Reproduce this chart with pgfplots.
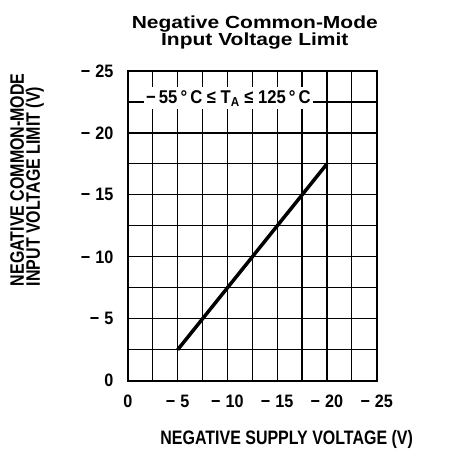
\documentclass[border=0pt]{standalone}
\usepackage{pgfplots}
\pgfplotsset{compat=1.18}
\usepackage{fontspec}
\setmainfont{Liberation Sans}
\newfontfamily\labelfont{Liberation Sans}[FakeStretch=0.82]
\newfontfamily\tickfont{Liberation Sans}[FakeStretch=0.9]
\newfontfamily\titlefont{Liberation Sans}[FakeStretch=1.2]
\begin{document}
\begin{tikzpicture}
\begin{axis}[
  scale only axis,
  width=249pt, height=310pt,
  xmin=-25, xmax=0, ymin=-25, ymax=0,
  x dir=reverse, y dir=reverse,
  xtick={0,-5,-10,-15,-20,-25},
  xticklabels={0,−\;5,−\;10,−\;15,−\;20,−\;25},
  ytick={0,-5,-10,-15,-20,-25},
  yticklabels={0,−\;5,−\;10,−\;15,−\;20,−\;25},
  minor xtick={-2.5,-7.5,-12.5,-17.5,-22.5},
  minor ytick={-2.5,-7.5,-12.5,-17.5,-22.5},
  grid=both,
  major grid style={black, line width=1.2pt},
  minor grid style={black, line width=1.2pt},
  major tick length=0pt, minor tick length=0pt,
  axis line style={black, line width=2pt},
  tick label style={font=\tickfont\bfseries\fontsize{18}{18}\selectfont},
  xticklabel style={yshift=-11pt},
  yticklabel style={xshift=-11pt},
  title={Negative Common-Mode\\Input Voltage Limit},
  title style={font=\titlefont\bfseries\fontsize{17.5}{16}\selectfont, align=center,
    at={(axis description cs:0.51,1)}, anchor=south, yshift=12pt},
  xlabel={NEGATIVE SUPPLY VOLTAGE (V)},
  xlabel style={font=\labelfont\bfseries\fontsize{19.5}{20}\selectfont,
    at={(axis description cs:0.638,-0.19)}, anchor=center},
  ylabel={NEGATIVE COMMON-MODE\\INPUT VOLTAGE LIMIT (V)},
  ylabel style={font=\labelfont\bfseries\fontsize{19.5}{16}\selectfont, align=left,
    at={(axis description cs:-0.405,0.294)}, anchor=west, rotate=0},
]
\addplot[black, line width=3.5pt] coordinates {(-5,-2.5) (-20,-17.5)};
\node[fill=white, inner xsep=2pt, inner ysep=3pt, font=\tickfont\bfseries\fontsize{18.5}{18}\selectfont] at (axis cs:-10.1,-22.8) {−\,55\,°\,C ≤ T\textsubscript{A} ≤ 125\,°\,C};
\coordinate (sw) at (rel axis cs:0,0);
\end{axis}
\path (sw) ++(-128pt,-68pt) rectangle ++(452pt,449pt);
\end{tikzpicture}
\end{document}
